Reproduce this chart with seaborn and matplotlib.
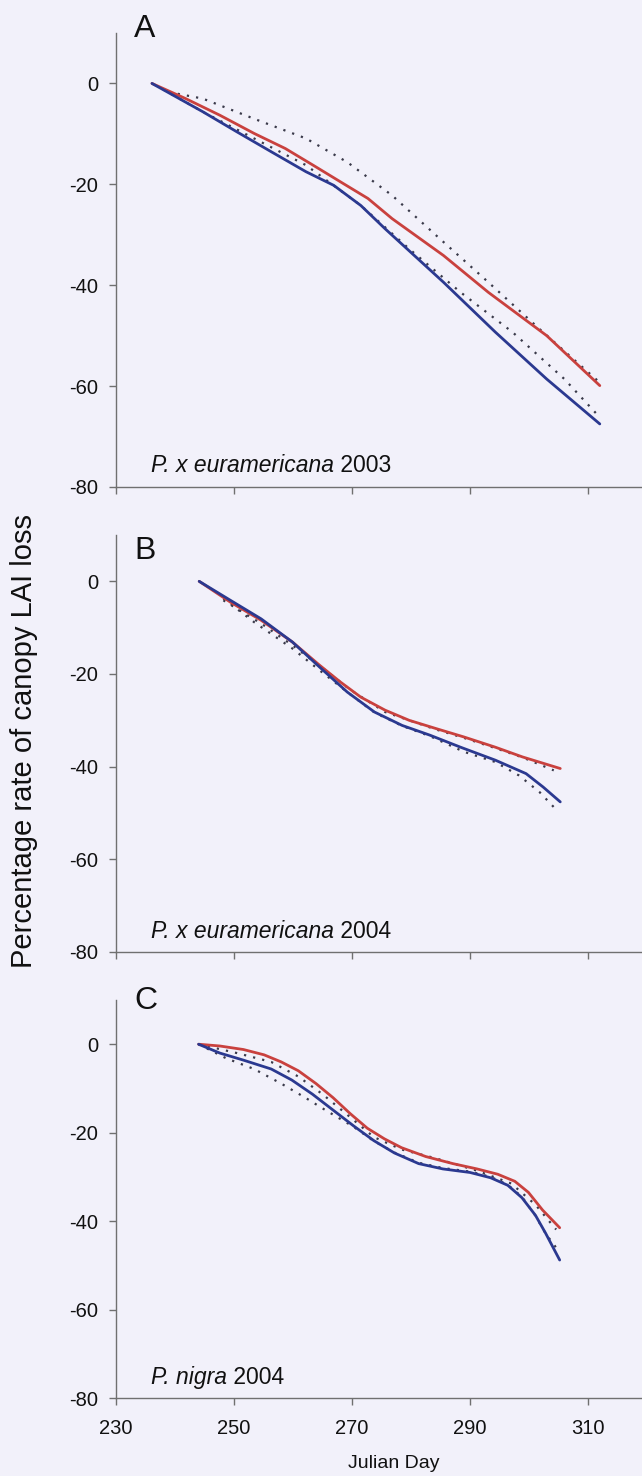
import numpy as np
import pandas as pd
import matplotlib
matplotlib.use("Agg")
import matplotlib.pyplot as plt
import seaborn as sns

sns.set_style("ticks")
plt.rcParams['font.family'] = ['Liberation Sans', 'DejaVu Sans']

# ---------------- data ----------------
# Panel A: P. x euramericana 2003
a_red_day = [236.1, 241.8, 247.6, 253.4, 258.7, 263.4, 268.6, 272.7, 276.8, 285.5, 293.1, 303.0, 312.0]
a_red_val = [0.0, -3.0, -6.3, -9.9, -12.9, -16.2, -19.9, -22.8, -26.8, -34.1, -41.4, -50.0, -59.9]
a_blue_day = [236.1, 244.7, 250.5, 256.4, 262.2, 266.9, 271.5, 275.6, 285.5, 294.3, 303.0, 312.0]
a_blue_val = [0.0, -5.6, -9.6, -13.6, -17.5, -20.2, -24.2, -28.8, -39.4, -49.3, -58.6, -67.5]
a_rdot_day = [238.9, 244.7, 253.4, 262.2, 269.2, 276.8, 284.9, 293.1, 301.8, 312.0]
a_rdot_val = [-1.7, -3.0, -7.0, -10.9, -15.6, -22.2, -30.8, -39.4, -48.7, -59.3]
a_bdot_day = [238.0, 245.0, 253.4, 262.2, 271.5, 279.7, 288.4, 297.2, 306.0, 312.0]
a_bdot_val = [-1.2, -5.8, -10.9, -16.2, -24.2, -32.8, -41.4, -49.3, -58.6, -66.2]

# Panel B: P. x euramericana 2004
b_red_day = [244.1, 249.4, 254.6, 259.9, 264.5, 268.0, 271.5, 275.6, 279.7, 284.3, 289.0, 294.3, 298.9, 305.3]
b_red_val = [0.0, -4.5, -8.4, -13.1, -18.1, -21.7, -25.0, -27.8, -30.0, -31.8, -33.6, -35.8, -37.9, -40.4]
b_blue_day = [244.1, 249.4, 254.6, 259.9, 264.5, 269.2, 273.8, 278.5, 283.2, 288.4, 294.3, 299.5, 302.4, 305.3]
b_blue_val = [0.0, -4.1, -8.1, -13.1, -18.5, -23.9, -28.2, -31.1, -33.2, -35.8, -38.6, -41.5, -44.4, -47.6]
b_rdot_day = [248.2, 254.6, 259.9, 265.1, 269.8, 275.6, 279.7, 284.3, 289.0, 294.3, 298.9, 304.2]
b_rdot_val = [-4.1, -9.1, -13.8, -18.8, -23.5, -28.2, -30.0, -32.0, -33.8, -36.0, -38.0, -40.8]
b_bdot_day = [248.2, 253.4, 259.9, 264.5, 269.2, 273.8, 278.5, 283.2, 289.0, 294.3, 298.3, 301.8, 304.7]
b_bdot_val = [-3.7, -8.8, -14.5, -19.2, -23.9, -28.3, -31.2, -33.4, -36.8, -39.0, -41.9, -45.5, -49.4]

# Panel C: P. nigra 2004
c_red_day = [244.0, 247.6, 251.6, 255.1, 258.0, 260.9, 263.9, 266.8, 269.7, 272.6, 275.5, 278.4,
             282.5, 287.1, 291.2, 294.7, 297.6, 299.9, 302.3, 305.2]
c_red_val = [0.0, -0.4, -1.2, -2.4, -4.0, -6.0, -8.9, -12.1, -15.7, -19.0, -21.4, -23.4,
             -25.4, -27.0, -28.2, -29.4, -31.0, -33.5, -37.5, -41.5]
c_blue_day = [244.0, 247.6, 251.6, 256.3, 259.8, 263.3, 266.8, 270.3, 273.7, 277.2, 281.3, 285.4,
              290.0, 293.5, 296.4, 298.8, 301.1, 302.8, 305.2]
c_blue_val = [0.0, -2.0, -3.6, -5.6, -8.1, -11.3, -14.9, -18.5, -21.8, -24.6, -27.0, -28.2,
              -29.0, -30.2, -31.9, -34.7, -38.7, -42.7, -48.8]
c_rdot_day = [244.0, 250.5, 256.3, 260.9, 265.0, 269.7, 273.7, 278.4, 284.2, 291.2, 297.0, 301.1, 304.6]
c_rdot_val = [0.0, -2.0, -4.0, -7.3, -11.3, -16.5, -21.0, -23.8, -25.8, -28.6, -31.5, -36.3, -41.9]
c_bdot_day = [244.0, 248.7, 253.4, 258.0, 262.1, 265.0, 270.3, 273.7, 277.2, 281.3, 285.4, 290.0,
              293.5, 296.4, 298.8, 301.1, 302.8, 304.6]
c_bdot_val = [0.0, -3.2, -5.6, -8.9, -12.1, -14.5, -18.7, -21.9, -24.5, -26.8, -28.0, -28.8,
              -30.0, -31.8, -34.5, -38.8, -42.8, -46.0]

panel_letters = ["A", "B", "C"]
panel_species = ["P. x euramericana", "P. x euramericana", "P. nigra"]
panel_years = ["2003", "2004", "2004"]
x_ticks = [230, 250, 270, 290, 310]
y_ticks = [0, -20, -40, -60, -80]

panels = [
    (a_red_day, a_red_val, a_blue_day, a_blue_val, a_rdot_day, a_rdot_val, a_bdot_day, a_bdot_val),
    (b_red_day, b_red_val, b_blue_day, b_blue_val, b_rdot_day, b_rdot_val, b_bdot_day, b_bdot_val),
    (c_red_day, c_red_val, c_blue_day, c_blue_val, c_rdot_day, c_rdot_val, c_bdot_day, c_bdot_val),
]

# ---------------- layout ----------------
W, H = 642, 1476
BG = "#f2f1fa"
fig = plt.figure(figsize=(W / 100, H / 100), dpi=100, facecolor=BG)

# (top_px, bottom_px) of each panel, and top px of panel letter
boxes = [(33, 487), (535, 952), (1000, 1398)]
letter_top = [14, 536, 986]
left_px = 116
px_per_day = 118 / 20.0
xmin, xmax = 230, 330
ax_w_px = (xmax - xmin) * px_per_day

RED = "#c9413e"
BLUE = "#2b3990"
DOT = "#3a3a4a"
TXT = "#111111"
SPINE = "#707070"

for i, ((top, bot), data) in enumerate(zip(boxes, panels)):
    ax = fig.add_axes([left_px / W, 1 - bot / H, ax_w_px / W, (bot - top) / H])
    ax.set_facecolor(BG)
    rd, rv, bd, bv, rdd, rdv, bdd, bdv = data
    sns.lineplot(x=rdd, y=rdv, ax=ax, color=DOT, lw=1.6, linestyle=(0, (1, 3.2)), zorder=3)
    sns.lineplot(x=bdd, y=bdv, ax=ax, color=DOT, lw=1.6, linestyle=(0, (1, 3.2)), zorder=3)
    sns.lineplot(x=rd, y=rv, ax=ax, color=RED, lw=2.0, zorder=4)
    sns.lineplot(x=bd, y=bv, ax=ax, color=BLUE, lw=2.0, zorder=5)

    ax.set_xlim(xmin, xmax)
    ax.set_ylim(-80, 10)
    ax.set_yticks(y_ticks)
    ax.set_yticklabels([str(t) for t in y_ticks])
    ax.set_xticks(x_ticks)
    if i == 2:
        ax.set_xticklabels([str(t) for t in x_ticks])
    else:
        ax.set_xticklabels([])
    ax.set_xlabel("")
    ax.set_ylabel("")
    for s in ["top", "right"]:
        ax.spines[s].set_visible(False)
    for s in ["left", "bottom"]:
        ax.spines[s].set_color(SPINE)
        ax.spines[s].set_linewidth(1.0)
    ax.tick_params(axis="both", direction="out", length=5, width=1.0, color=SPINE,
                   labelsize=14.5, labelcolor=TXT)
    ax.tick_params(axis="y", pad=8)
    ax.tick_params(axis="x", pad=10)

    fig.text(134 / W, 1 - letter_top[i] / H, panel_letters[i], fontsize=23,
             va="top", ha="left", color=TXT)
    t1 = ax.text((151 - left_px) / ax_w_px, 0.022, panel_species[i], transform=ax.transAxes,
                 fontsize=16.5, style="italic", va="bottom", ha="left", color=TXT)
    ax.annotate(" " + panel_years[i], xy=(1, 0), xycoords=t1, fontsize=16.5,
                va="bottom", ha="left", color=TXT)

fig.text(24 / W, 1 - 741 / H, "Percentage rate of canopy LAI loss", rotation=90,
         fontsize=21, va="center", ha="center", color=TXT)
fig.text(394 / W, 1 - 1463 / H, "Julian Day", fontsize=14, va="center", ha="center",
         color=TXT)

fig.savefig("out.png", dpi=100, facecolor=BG)
